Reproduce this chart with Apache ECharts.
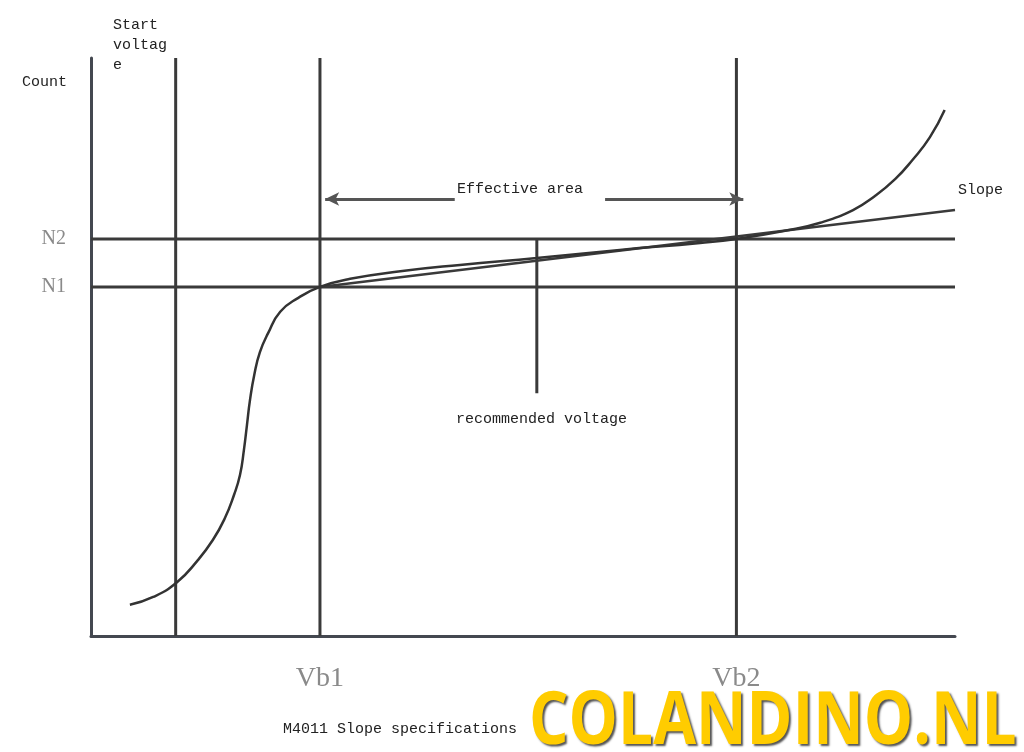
<!DOCTYPE html>
<html>
<head>
<meta charset="utf-8">
<script src="https://cdn.jsdelivr.net/npm/echarts@6/dist/echarts.min.js"></script>
<style>
  html, body { margin: 0; padding: 0; background: #fff; }
  #main { width: 1024px; height: 752px; }
</style>
</head>
<body>
<div id="main"></div>
<script>
// voltage / count in relative units (0-100)
const startVoltage = 9.8;
const vb1 = 26.5;
const vb2 = 74.7;
const recVoltage = 51.6;
const n1 = 60.4;
const n2 = 68.7;
const xTickValues = [vb1, vb2];
const xTickLabels = ['Vb1', 'Vb2'];
const yTickValues = [n1, n2];
const yTickLabels = ['N1', 'N2'];

// count curve
const curveX = [4.5, 7.2, 9.95, 12.3, 14.1, 15.5, 16.55, 17.25, 17.7, 18.05, 18.4, 18.9, 19.55, 20.5,
  21.9, 24.0, 26.5, 30.0, 35.8, 42.7, 51.6, 61.2, 70.5, 74.7, 80.6, 84.4, 88.2, 90.7, 93.1, 95.1, 97.1, 98.8];
const curveY = [5.4, 6.75, 9.3, 13.0, 16.6, 20.4, 24.4, 27.9, 32.2, 36.5, 40.8, 45.2, 49.1, 52.4,
  56.1, 58.5, 60.4, 61.8, 63.1, 64.2, 65.4, 66.8, 68.0, 68.7, 70.2, 71.5, 73.7, 76.1, 79.1, 82.4, 86.3, 91.0];

// slope line
const slopeX = [26.5, 100];
const slopeY = [60.4, 73.7];

// recommended voltage marker
const recY = [42.0, 68.5];

// effective area arrows
const arrowY = 75.6;
const arrowLeft = [42.1, 27.1];
const arrowRight = [59.5, 75.5];

const lineColor = '#3a3a3a';
const monoFont = '"Liberation Mono", "DejaVu Sans Mono", monospace';

function pairs(xs, ys) {
  return xs.map((x, i) => [x, ys[i]]);
}

function straight(name, pts, width) {
  return {
    name: name,
    type: 'line',
    data: pts,
    symbol: 'none',
    silent: true,
    lineStyle: { color: lineColor, width: width || 2.5 }
  };
}

const chart = echarts.init(document.getElementById('main'));

const option = {
  backgroundColor: '#fff',
  animation: false,
  grid: { left: 91, right: 69, top: 58, bottom: 116 },
  xAxis: {
    type: 'value',
    min: 0,
    max: 100,
    splitLine: { show: false },
    axisLine: { show: true, lineStyle: { color: '#444850', width: 3 } },
    axisTick: { show: false },
    axisLabel: {
      customValues: xTickValues,
      formatter: v => xTickLabels[xTickValues.indexOf(v)],
      margin: 29,
      color: '#8a8a8a',
      fontSize: 28,
      fontFamily: '"Liberation Serif", "DejaVu Serif", serif'
    }
  },
  yAxis: {
    type: 'value',
    min: 0,
    max: 100,
    splitLine: { show: false },
    axisLine: { show: true, lineStyle: { color: '#444850', width: 3 } },
    axisTick: { show: false },
    axisLabel: {
      customValues: yTickValues,
      formatter: v => yTickLabels[yTickValues.indexOf(v)],
      margin: 25,
      color: '#8a8a8a',
      fontSize: 20,
      fontFamily: '"Liberation Serif", "DejaVu Serif", serif'
    }
  },
  series: [
    straight('N2', [[0, n2], [100, n2]], 3),
    straight('N1', [[0, n1], [100, n1]], 3),
    straight('Start voltage', [[startVoltage, 0], [startVoltage, 100]], 3),
    straight('Vb1', [[vb1, 0], [vb1, 100]], 3),
    straight('Vb2', [[vb2, 0], [vb2, 100]], 3),
    straight('Recommended', pairs([recVoltage, recVoltage], recY), 3),
    straight('Slope', pairs(slopeX, slopeY), 2.5),
    {
      name: 'Count',
      type: 'line',
      data: pairs(curveX, curveY),
      smooth: 0.5,
      symbol: 'none',
      silent: true,
      lineStyle: { color: '#333', width: 2.5 },
      markLine: {
        silent: true,
        symbol: ['none', 'arrow'],
        symbolSize: [10, 14],
        label: { show: false },
        lineStyle: { color: '#555', width: 3, type: 'solid' },
        data: [
          [{ coord: [arrowLeft[0], arrowY] }, { coord: [arrowLeft[1], arrowY] }],
          [{ coord: [arrowRight[0], arrowY] }, { coord: [arrowRight[1], arrowY] }]
        ]
      }
    }
  ],
  graphic: [
    { type: 'text', left: 22, top: 75, style: { text: 'Count', font: '15px ' + monoFont, fill: '#222' } },
    { type: 'text', left: 113, top: 15, style: { text: 'Start\nvoltag\ne', font: '15px ' + monoFont, lineHeight: 20, fill: '#222' } },
    { type: 'text', left: 457, top: 182, style: { text: 'Effective area', font: '15px ' + monoFont, fill: '#222' } },
    { type: 'text', left: 456, top: 412, style: { text: 'recommended voltage', font: '15px ' + monoFont, fill: '#222' } },
    { type: 'text', left: 958, top: 183, style: { text: 'Slope', font: '15px ' + monoFont, fill: '#222' } },
    { type: 'text', left: 283, top: 722, style: { text: 'M4011 Slope specifications', font: '15px ' + monoFont, fill: '#222' } },
    {
      type: 'text', x: 529, y: 686, scaleX: 0.84,
      style: {
        text: 'COLANDINO.NL',
        font: 'bold 74px "Open Sans", sans-serif',
        fill: '#ffcc00',
        textShadowColor: 'rgba(40,40,40,0.8)',
        textShadowOffsetX: 2,
        textShadowOffsetY: 2,
        textShadowBlur: 2
      }
    }
  ]
};

chart.setOption(option);
</script>
</body>
</html>
